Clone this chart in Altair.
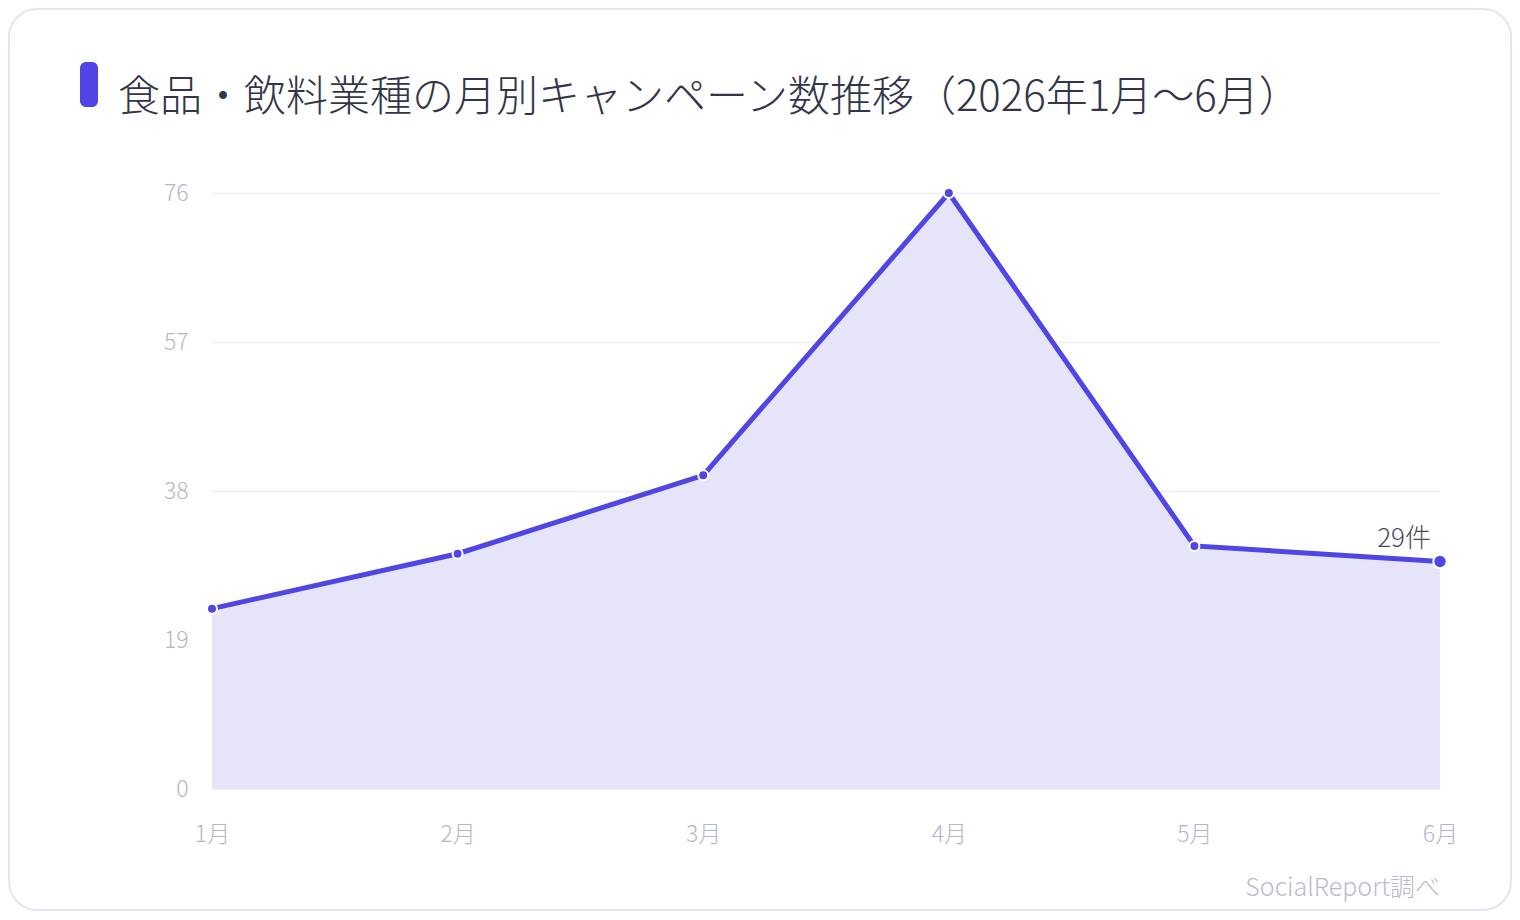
import altair as alt
import pandas as pd

months = ["1月", "2月", "3月", "4月", "5月", "6月"]
values = [23, 30, 40, 76, 31, 29]
y_ticks = [0, 19, 38, 57, 76]
title_text = "食品・飲料業種の月別キャンペーン数推移（2026年1月〜6月）"
source_text = "SocialReport調べ"

df = pd.DataFrame({"month": months, "count": values})
last = pd.DataFrame({"month": [months[-1]], "count": [values[-1]]})

FONT = "'Noto Sans CJK JP Light', 'Noto Sans CJK JP DemiLight', 'Noto Sans CJK JP', sans-serif"
INDIGO = "#4f46e5"
W, H = 1228, 596

x_enc = alt.X("month:N", sort=months, scale=alt.Scale(type="point", padding=0),
              axis=alt.Axis(title=None, labelAngle=0, ticks=False, domain=False, grid=False,
                            labelFont=FONT, labelFontSize=23, labelFontWeight=300,
                            labelColor="#b3b7c9", labelPadding=34))
y_enc = alt.Y("count:Q", scale=alt.Scale(domain=[0, 76], nice=False),
              axis=alt.Axis(title=None, values=y_ticks, ticks=False, domain=False,
                            grid=True, gridColor="#eeeef3", gridWidth=1.5,
                            labelFont=FONT, labelFontSize=23, labelFontWeight=300,
                            labelColor="#b3b7c9", labelPadding=24))

base = alt.Chart(df)

card = alt.Chart(pd.DataFrame({"k": [0]})).mark_rect(
    fill="white", fillOpacity=0, stroke="#e4e6ef", strokeWidth=2, cornerRadius=28
).encode(x=alt.value(-203), x2=alt.value(1299), y=alt.value(-184), y2=alt.value(717))

bar = alt.Chart(pd.DataFrame({"k": [0]})).mark_rect(
    fill=INDIGO, cornerRadius=6
).encode(x=alt.value(-132), x2=alt.value(-114), y=alt.value(-131), y2=alt.value(-86))

title = alt.Chart(pd.DataFrame({"t": [title_text]})).mark_text(
    font=FONT, fontSize=42, fontWeight=300, color="#33354a", align="left", baseline="alphabetic"
).encode(text="t:N", x=alt.value(-94), y=alt.value(-82))

source = alt.Chart(pd.DataFrame({"t": [source_text]})).mark_text(
    font=FONT, fontSize=25, fontWeight=300, color="#b8bbcc", align="right", baseline="alphabetic"
).encode(text="t:N", x=alt.value(W), y=alt.value(703))

area = base.mark_area(color="#e6e4f9", opacity=1).encode(x=x_enc, y=y_enc)
line = base.mark_line(color=INDIGO, strokeWidth=5).encode(x=x_enc, y=y_enc)
pts = base.mark_point(filled=True, fill=INDIGO, stroke="white", strokeWidth=2, size=100, opacity=1).encode(
    x=x_enc, y=y_enc)
last_pt = alt.Chart(last).mark_point(filled=True, fill=INDIGO, stroke="white", strokeWidth=2,
                                     size=180, opacity=1).encode(x=x_enc, y=y_enc)
last_lbl = alt.Chart(last).transform_calculate(lbl="datum.count + '件'").mark_text(
    font=FONT, fontSize=26, fontWeight=300, color="#4a4c5e", align="right",
    baseline="alphabetic", dx=-9, dy=-15
).encode(x=x_enc, y=y_enc, text="lbl:N")

chart = alt.layer(card, bar, title, source, area, line, pts, last_pt, last_lbl).properties(
    width=W, height=H,
    autosize=alt.AutoSizeParams(type="none"),
    padding={"left": 204, "top": 185, "right": 72, "bottom": 123},
    background="white",
).configure_view(stroke=None)

chart.save("out.html", embed_options={"renderer": "svg", "actions": False})
